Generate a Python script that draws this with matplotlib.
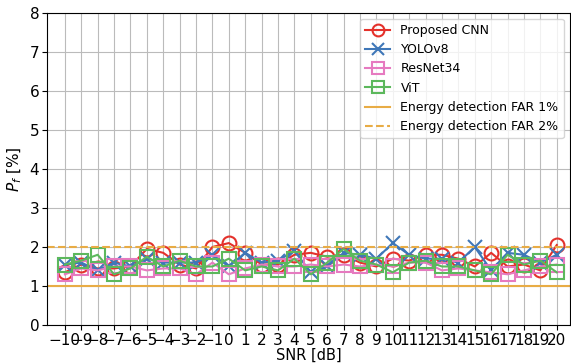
import matplotlib
matplotlib.use("Agg")
import matplotlib.pyplot as plt
import numpy as np

snr = list(range(-10, 21))
cnn = [1.35, 1.55, 1.45, 1.45, 1.5, 1.95, 1.85, 1.55, 1.45, 2.0, 2.1, 1.85, 1.55, 1.55, 1.8, 1.85,
       1.75, 1.8, 1.6, 1.5, 1.7, 1.65, 1.8, 1.8, 1.7, 1.5, 1.85, 1.5, 1.55, 1.4, 2.05]
yolo = [1.55, 1.6, 1.4, 1.6, 1.5, 1.7, 1.6, 1.6, 1.6, 1.8, 1.5, 1.85, 1.6, 1.65, 1.9, 1.35,
        1.5, 1.85, 1.8, 1.7, 2.1, 1.8, 1.7, 1.7, 1.6, 2.0, 1.4, 1.85, 1.8, 1.6, 1.8]
resnet = [1.3, 1.45, 1.4, 1.5, 1.5, 1.4, 1.45, 1.45, 1.3, 1.6, 1.3, 1.45, 1.55, 1.5, 1.5, 1.55,
          1.5, 1.55, 1.5, 1.55, 1.5, 1.6, 1.6, 1.4, 1.45, 1.4, 1.35, 1.3, 1.4, 1.5, 1.55]
vit = [1.55, 1.65, 1.8, 1.3, 1.45, 1.75, 1.5, 1.65, 1.5, 1.5, 1.7, 1.4, 1.5, 1.4, 1.7, 1.3,
       1.6, 1.95, 1.65, 1.55, 1.35, 1.6, 1.65, 1.5, 1.5, 1.4, 1.3, 1.8, 1.55, 1.65, 1.35]
far1 = 1.0
far2 = 2.0

fig, ax = plt.subplots(figsize=(5.71, 3.64), dpi=100)
fig.subplots_adjust(left=0.082, right=0.998, top=0.965, bottom=0.107)

ms = 10
ax.plot(snr, cnn, color='#e4312b', marker='o', mfc='none', ms=ms, mew=1.5, lw=1.5, label='Proposed CNN')
ax.plot(snr, yolo, color='#3f77b8', marker='x', ms=ms, mew=1.5, lw=1.5, label='YOLOv8')
ax.plot(snr, resnet, color='#e67ac0', marker='s', mfc='none', ms=ms, mew=1.5, lw=1.5, label='ResNet34')
ax.plot(snr, vit, color='#5cb85c', marker='s', mfc='none', ms=ms, mew=1.5, lw=1.5, label='ViT')
ax.axhline(far1, color='#e8ac45', lw=1.5, label='Energy detection FAR 1%')
ax.axhline(far2, color='#e8ac45', lw=1.5, ls='--', label='Energy detection FAR 2%')

ax.set_xlim(-11.1, 20.8)
ax.set_ylim(0, 8)
ax.set_xticks(snr)
ax.set_yticks(range(0, 9))
ax.tick_params(labelsize=11, pad=2)
ax.grid(True, color='#bbbbbb', lw=0.8)
ax.set_xlabel('SNR [dB]', fontsize=10.5, labelpad=0)
ax.set_ylabel('$P_f$ [%]', fontsize=11)
ax.legend(loc='upper right', fontsize=9, markerscale=0.85)

fig.savefig('out.png', dpi=100)
